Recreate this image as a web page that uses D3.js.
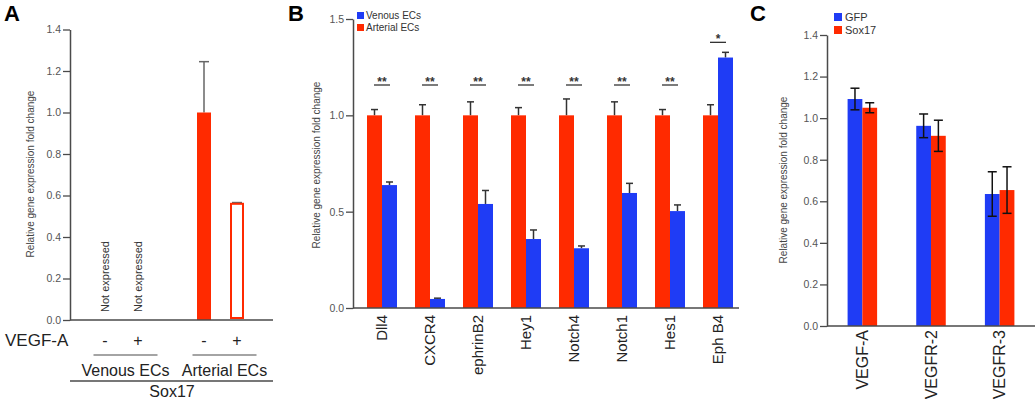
<!DOCTYPE html>
<html>
<head>
<meta charset="utf-8">
<script src="https://cdn.jsdelivr.net/npm/d3@7"></script>
<style>
  body { margin: 0; background: #fff; }
  svg { display: block; font-family: Arial, "Liberation Sans", sans-serif; }
</style>
</head>
<body>
<svg id="chart" width="1036" height="399"></svg>
<script>
// Données
const RED = "#ff2a00";
const BLUE = "#1f3cf5";
const AXIS = "#4a4a4a";

// Panel A : Sox17 (veines absentes)
const cellTypesA = ["Venous ECs", "Arterial ECs"];
const vegfA = ["-", "+"];
const sox17A = [[null, null], [1.0, 0.56]];
const sox17ErrA = [[null, null], [0.245, 0.006]];
const yTicksA = [0, 0.2, 0.4, 0.6, 0.8, 1.0, 1.2, 1.4];

// Panel B
const genesB = ["Dll4", "CXCR4", "ephrinB2", "Hey1", "Notch4", "Notch1", "Hes1", "Eph B4"];
const arterialB = [1, 1, 1, 1, 1, 1, 1, 1];
const arterialErrB = [0.03, 0.055, 0.07, 0.04, 0.085, 0.07, 0.03, 0.055];
const venousB = [0.638, 0.047, 0.54, 0.358, 0.31, 0.597, 0.503, 1.30];
const venousErrB = [0.016, 0.004, 0.07, 0.047, 0.012, 0.05, 0.032, 0.027];
const signifB = ["**", "**", "**", "**", "**", "**", "**", "*"];
const yTicksB = [0, 0.5, 1.0, 1.5];

// Panel C
const genesC = ["VEGF-A", "VEGFR-2", "VEGFR-3"];
const gfpC = [1.092, 0.963, 0.635];
const gfpErrC = [0.052, 0.057, 0.107];
const sox17C = [1.05, 0.915, 0.654];
const sox17ErrC = [0.024, 0.075, 0.112];
const yTicksC = [0, 0.2, 0.4, 0.6, 0.8, 1.0, 1.2, 1.4];

const svg = d3.select("#chart");

function yAxis(g, y, ticks, x0, fmt) {
    const ax = g.append("g")
        .attr("transform", `translate(${x0},0)`)
        .call(d3.axisLeft(y).tickValues(ticks).tickFormat(d3.format(fmt)).tickSize(7).tickSizeOuter(0));
    ax.select(".domain").attr("stroke", AXIS).attr("stroke-width", 1.5);
    ax.selectAll(".tick line").attr("stroke", AXIS).attr("stroke-width", 1.3);
    ax.selectAll(".tick text").attr("fill", "#555").style("font-size", "10.5px").attr("x", -9);
    return ax;
}

function yLabel(g, x, yc) {
    g.append("text")
        .attr("transform", `translate(${x},${yc}) rotate(-90)`)
        .attr("text-anchor", "middle")
        .style("font-size", "10px")
        .attr("fill", "#444")
        .text("Relative gene expression fold change");
}

function baseline(g, x1, x2, y0) {
    g.append("line")
        .attr("x1", x1).attr("x2", x2).attr("y1", y0).attr("y2", y0)
        .attr("stroke", AXIS).attr("stroke-width", 1.5);
}

function errBar(g, cx, yTop, yBot, cap, color) {
    g.append("line").attr("x1", cx).attr("x2", cx).attr("y1", yTop).attr("y2", yBot)
        .attr("stroke", color).attr("stroke-width", 1.5);
    g.append("line").attr("x1", cx - cap / 2).attr("x2", cx + cap / 2).attr("y1", yTop).attr("y2", yTop)
        .attr("stroke", color).attr("stroke-width", 1.5);
}

function panelLetter(txt, x, y) {
    svg.append("text").attr("x", x).attr("y", y)
        .style("font-size", "22px").style("font-weight", "bold").text(txt);
}

// ---------- Panel A ----------
(function () {
    const g = svg.append("g");
    const y = d3.scaleLinear().domain([0, 1.4]).range([320, 29.5]);
    const outer = d3.scaleBand().domain(cellTypesA).range([72, 270]);
    const inner = d3.scaleBand().domain(vegfA).range([0, outer.bandwidth()])
        .paddingInner(0.576).paddingOuter(0.788);

    panelLetter("A", 4, 21);
    yLabel(g, 34, 174);

    cellTypesA.forEach((cell, i) => {
        vegfA.forEach((v, j) => {
            const x = outer(cell) + inner(v);
            const cx = x + inner.bandwidth() / 2;
            const val = sox17A[i][j];
            if (val === null) {
                g.append("text")
                    .attr("transform", `translate(${cx + 4},312) rotate(-90)`)
                    .style("font-size", "11px").attr("fill", "#333")
                    .text("Not expressed");
            } else {
                errBar(g, cx, y(val + sox17ErrA[i][j]), y(val), 10, "#666");
                const hollow = j === 1;
                g.append("rect")
                    .attr("x", hollow ? x + 1 : x)
                    .attr("y", y(val))
                    .attr("width", hollow ? inner.bandwidth() - 2 : inner.bandwidth())
                    .attr("height", y(0) - y(val) - (hollow ? 2 : 0))
                    .attr("fill", hollow ? "#fff" : RED)
                    .attr("stroke", hollow ? RED : "none")
                    .attr("stroke-width", 2);
            }
            g.append("text").attr("x", cx).attr("y", 346)
                .attr("text-anchor", "middle").style("font-size", "16px").attr("fill", "#222")
                .text(v);
        });
        const oc = outer(cell) + outer.bandwidth() / 2 + 4;
        g.append("line").attr("x1", oc - 32).attr("x2", oc + 32).attr("y1", 355).attr("y2", 355)
            .attr("stroke", AXIS).attr("stroke-width", 1.2);
        g.append("text").attr("x", oc).attr("y", 376)
            .attr("text-anchor", "middle").style("font-size", "16px").attr("fill", "#222")
            .text(cell);
    });

    yAxis(g, y, yTicksA, 70, ".1f");
    baseline(g, 70, 273, y(0));

    g.append("text").attr("x", 5).attr("y", 346)
        .style("font-size", "17px").attr("fill", "#222").text("VEGF-A");
    g.append("line").attr("x1", 70).attr("x2", 273).attr("y1", 381).attr("y2", 381)
        .attr("stroke", AXIS).attr("stroke-width", 1.5);
    g.append("text").attr("x", 172).attr("y", 397)
        .attr("text-anchor", "middle").style("font-size", "16px").attr("fill", "#222").text("Sox17");
})();

// ---------- Panel B ----------
(function () {
    const g = svg.append("g");
    const y = d3.scaleLinear().domain([0, 1.5]).range([308, 19]);
    const x = d3.scaleBand().domain(genesB).range([358, 742])
        .paddingInner(0.375).paddingOuter(0.1875);
    const bw = x.bandwidth() / 2;

    panelLetter("B", 288, 21);
    yLabel(g, 320, 165);

    genesB.forEach((gene, i) => {
        const x0 = x(gene);
        errBar(g, x0 + bw / 2, y(arterialB[i] + arterialErrB[i]), y(arterialB[i]), 7, "#333");
        errBar(g, x0 + bw * 1.5, y(venousB[i] + venousErrB[i]), y(venousB[i]), 7, "#333");
        g.append("rect").attr("x", x0).attr("y", y(arterialB[i]))
            .attr("width", bw).attr("height", y(0) - y(arterialB[i])).attr("fill", RED);
        g.append("rect").attr("x", x0 + bw).attr("y", y(venousB[i]))
            .attr("width", bw).attr("height", y(0) - y(venousB[i])).attr("fill", BLUE);

        // Significativité
        const cx = x0 + bw;
        const top = Math.max(arterialB[i] + arterialErrB[i], venousB[i] + venousErrB[i]);
        const ly = signifB[i] === "*" ? y(top) - 10 : 85;
        g.append("line").attr("x1", cx - 8).attr("x2", cx + 8).attr("y1", ly).attr("y2", ly)
            .attr("stroke", "#333").attr("stroke-width", 1.3);
        g.append("text").attr("x", cx).attr("y", ly + 1)
            .attr("text-anchor", "middle").style("font-size", "12px").style("font-weight", "bold")
            .attr("fill", "#333").text(signifB[i]);

        g.append("text")
            .attr("transform", `translate(${cx},315) rotate(-90)`)
            .attr("text-anchor", "end").attr("dy", "0.35em")
            .style("font-size", "15px").attr("fill", "#222").text(gene);
    });

    yAxis(g, y, yTicksB, 353, ".1f");
    baseline(g, 353, 739, y(0));

    // Légende
    [["Venous ECs", BLUE], ["Arterial ECs", RED]].forEach(([lab, col], k) => {
        g.append("rect").attr("x", 357).attr("y", 12 + k * 12).attr("width", 7).attr("height", 7).attr("fill", col);
        g.append("text").attr("x", 366).attr("y", 19 + k * 12)
            .style("font-size", "10px").attr("fill", "#333").text(lab);
    });
})();

// ---------- Panel C ----------
(function () {
    const g = svg.append("g");
    const y = d3.scaleLinear().domain([0, 1.4]).range([326, 35]);
    const x = d3.scaleBand().domain(genesC).range([827, 1035])
        .paddingInner(0.57).paddingOuter(0.3);
    const bw = x.bandwidth() / 2;

    panelLetter("C", 750, 21);
    yLabel(g, 787, 180);

    genesC.forEach((gene, i) => {
        const x0 = x(gene);
        g.append("rect").attr("x", x0).attr("y", y(gfpC[i]))
            .attr("width", bw).attr("height", y(0) - y(gfpC[i])).attr("fill", BLUE);
        g.append("rect").attr("x", x0 + bw).attr("y", y(sox17C[i]))
            .attr("width", bw).attr("height", y(0) - y(sox17C[i])).attr("fill", RED);
        [[gfpC[i], gfpErrC[i], x0 + bw / 2], [sox17C[i], sox17ErrC[i], x0 + bw * 1.5]].forEach(([v, e, cx]) => {
            errBar(g, cx, y(v + e), y(v - e), 9, "#111");
            g.append("line").attr("x1", cx - 4.5).attr("x2", cx + 4.5).attr("y1", y(v - e)).attr("y2", y(v - e))
                .attr("stroke", "#111").attr("stroke-width", 1.5);
        });
        g.append("text")
            .attr("transform", `translate(${x0 + bw},330) rotate(-90)`)
            .attr("text-anchor", "end").attr("dy", "0.35em")
            .style("font-size", "16px").attr("fill", "#222").text(gene);
    });

    yAxis(g, y, yTicksC, 827, ".1f");
    baseline(g, 827, 1035, y(0));

    [["GFP", BLUE], ["Sox17", RED]].forEach(([lab, col], k) => {
        g.append("rect").attr("x", 834).attr("y", 13 + k * 13).attr("width", 8).attr("height", 8).attr("fill", col);
        g.append("text").attr("x", 845).attr("y", 21 + k * 13)
            .style("font-size", "11px").attr("fill", "#333").text(lab);
    });
})();
</script>
</body>
</html>
